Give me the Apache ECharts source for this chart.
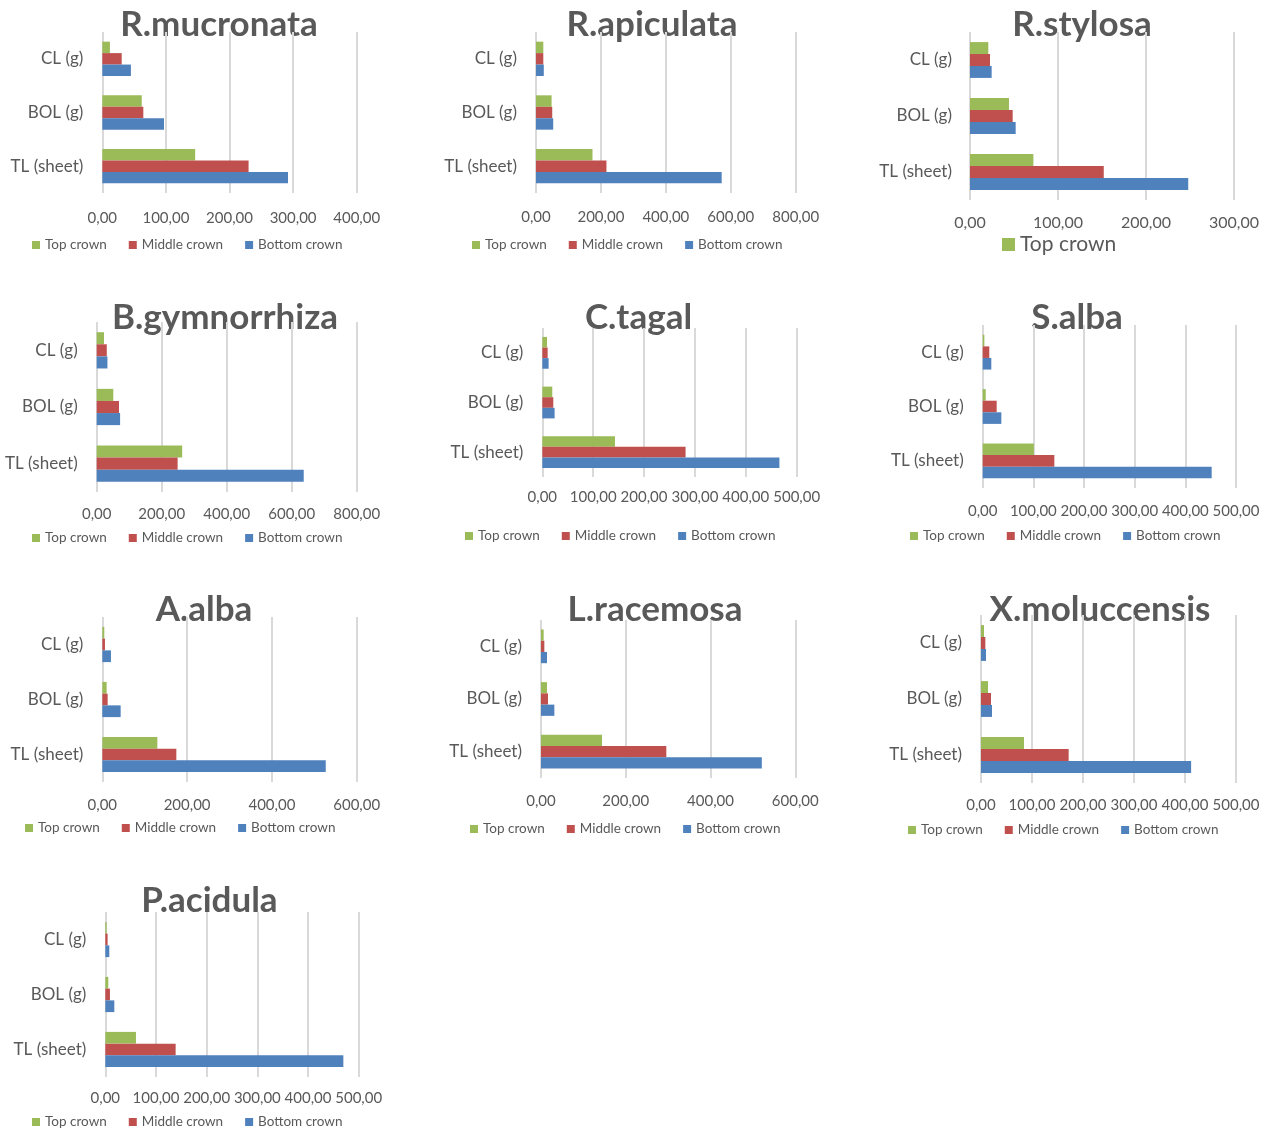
<!DOCTYPE html>
<html>
<head>
<meta charset="utf-8">
<script src="https://cdn.jsdelivr.net/npm/echarts@6/dist/echarts.min.js"></script>
<style>
  html, body { margin: 0; padding: 0; background: #ffffff; }
  #chart { width: 1272px; height: 1131px; }
</style>
</head>
<body>
<div id="chart"></div>
<script>
// Leaf traits per crown position for ten mangrove species
const species = ['R.mucronata', 'R.apiculata', 'R.stylosa', 'B.gymnorrhiza', 'C.tagal',
                 'S.alba', 'A.alba', 'L.racemosa', 'X.moluccensis', 'P.acidula'];
const categories = ['CL (g)', 'BOL (g)', 'TL (sheet)'];
const crownNames = ['Top crown', 'Middle crown', 'Bottom crown'];

// values per species, ordered as categories: [CL, BOL, TL]
const topCrown = [
  [12, 62, 146], [22.5, 48, 174], [20.8, 44.3, 72], [22.5, 51, 263], [9.2, 19.6, 142.8],
  [3.3, 6, 101], [4.7, 10.2, 129.8], [6.3, 14.2, 144], [5.9, 13.7, 84.3], [2.6, 5.9, 60.5]
];
const middleCrown = [
  [30.5, 64.5, 230], [22.5, 50, 217], [22.7, 48.5, 152], [31, 68.6, 249], [10.5, 21.6, 281.6],
  [13, 27.6, 141.4], [6.3, 12.6, 174.6], [7.9, 16.5, 295.7], [8.5, 19.6, 171.9], [4.6, 9.2, 138.8]
];
const bottomCrown = [
  [45, 97, 292], [24, 53, 572], [24.6, 51.9, 248], [33, 72, 637], [12.4, 24.2, 466],
  [17, 36.8, 452], [20.4, 43.3, 527], [14.2, 31.5, 521], [9.8, 21.6, 412], [7.9, 17.8, 469.7]
];

// value-axis range and tick step per species
const axisMax  = [400, 800, 300, 800, 500, 500, 600, 600, 500, 500];
const axisStep = [100, 200, 100, 200, 100, 100, 200, 200, 100, 100];

const crownColors = ['#9bbb59', '#c0504d', '#4f81bd'];
const textColor = '#595959';
const fontFamily = 'Lato, "Open Sans", sans-serif';

// panel frames: plot box [left, top, right, bottom], title centre, label margins, legend origin
const frames = [
  { box: [102.3, 32, 356.7, 193],  title: [219, 25],    xm: 18, ym: 19, legend: [32, 245] },
  { box: [536, 32, 795.7, 193],    title: [652, 25],    xm: 17, ym: 19, legend: [472, 245] },
  { box: [970, 32, 1234, 200],     title: [1082, 25],   xm: 15, ym: 18, legend: [1002, 246], single: true },
  { box: [96.7, 322, 356.7, 492],  title: [225, 318],   xm: 15, ym: 19, legend: [32, 538] },
  { box: [542.3, 328, 796.7, 477], title: [638.5, 318], xm: 13, ym: 19, legend: [465, 536] },
  { box: [982.7, 325, 1236, 488],  title: [1077, 318],  xm: 16, ym: 19, legend: [910, 536] },
  { box: [102.3, 617, 356.7, 782], title: [204, 610],   xm: 16, ym: 19, legend: [25, 828] },
  { box: [541, 620, 795.3, 778],   title: [655, 610],   xm: 16, ym: 19, legend: [470, 829] },
  { box: [981, 615, 1236, 783],    title: [1100, 610],  xm: 15, ym: 19, legend: [908, 830] },
  { box: [105.3, 912, 358.7, 1077],title: [209.5, 901], xm: 14, ym: 19, legend: [32, 1122] }
];

const fmt = v => v.toFixed(2).replace('.', ',');
const crownData = [topCrown, middleCrown, bottomCrown];

const grid = [], xAxis = [], yAxis = [], series = [], legend = [], graphicEls = [];

species.forEach((name, i) => {
  const f = frames[i];
  const [l, t, r, b] = f.box;
  grid.push({ left: l, top: t, width: r - l, height: b - t, containLabel: false });

  xAxis.push({
    type: 'value', gridIndex: i, min: 0, max: axisMax[i], interval: axisStep[i],
    axisLine: { show: false }, axisTick: { show: false },
    splitLine: { show: true, lineStyle: { color: '#d9d9d9', width: 2 } },
    axisLabel: { formatter: fmt, color: textColor, fontFamily, fontSize: i === 2 ? 16 : 15, margin: f.xm }
  });
  yAxis.push({
    type: 'category', gridIndex: i, data: categories, inverse: true,
    axisLine: { show: false }, axisTick: { show: false },
    axisLabel: { color: textColor, fontFamily, fontSize: 17, margin: f.ym }
  });

  crownNames.forEach((cn, k) => {
    series.push({
      type: 'bar', name: cn, xAxisIndex: i, yAxisIndex: i,
      data: crownData[k][i],
      barGap: '0%', barCategoryGap: '36%',
      itemStyle: { color: crownColors[k] },
      emphasis: { disabled: true }
    });
  });

  legend.push(f.single ? {
    data: ['Top crown'], left: f.legend[0], top: f.legend[1] - 12, padding: 0,
    icon: 'rect', itemWidth: 13, itemHeight: 13, itemGap: 20,
    textStyle: { color: textColor, fontFamily, fontSize: 21 }
  } : {
    data: crownNames, left: f.legend[0], top: f.legend[1] - 7, padding: 0,
    icon: 'rect', itemWidth: 8, itemHeight: 8, itemGap: 22,
    textStyle: { color: textColor, fontFamily, fontSize: 13.5 }
  });

  graphicEls.push({
    type: 'text', x: f.title[0], y: f.title[1],
    style: {
      text: name, fill: textColor, align: 'center', verticalAlign: 'middle',
      font: 'bold 35px ' + fontFamily
    }
  });
});

const chart = echarts.init(document.getElementById('chart'));
chart.setOption({
  animation: false,
  backgroundColor: '#ffffff',
  grid, xAxis, yAxis, series, legend,
  graphic: { elements: graphicEls }
});
</script>
</body>
</html>
